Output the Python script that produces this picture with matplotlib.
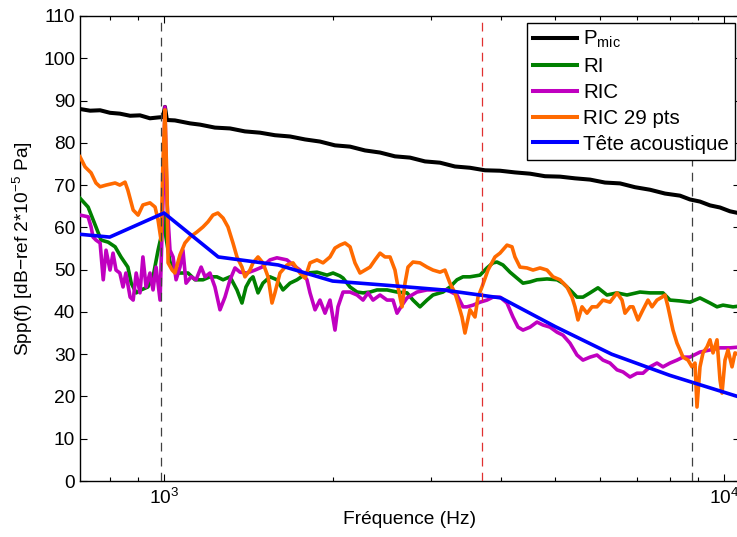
import matplotlib
matplotlib.use("Agg")
import matplotlib.pyplot as plt
from matplotlib.ticker import LogLocator, NullFormatter

plt.rcParams['font.family'] = ['Liberation Sans', 'DejaVu Sans']
plt.rcParams['mathtext.fontset'] = 'custom'
plt.rcParams['mathtext.rm'] = 'Liberation Sans'
plt.rcParams['mathtext.it'] = 'Liberation Sans:italic'
plt.rcParams['mathtext.default'] = 'regular'

# ---------------- data ----------------
pmic_f = [708, 738, 769, 801, 834, 870, 906, 944, 976, 996,
          1004, 1012, 1046, 1113, 1160, 1233, 1312, 1395, 1484, 1578,
          1679, 1786, 1899, 2020, 2149, 2285, 2431, 2585, 2750, 2925,
          3111, 3308, 3519, 3743, 3981, 4234, 4504, 4790, 5095, 5419,
          5764, 6130, 6521, 6935, 7377, 7846, 8345, 8695, 9060, 9441,
          9837, 10250, 10680]
pmic_db = [88.0, 87.6, 87.7, 87.1, 86.9, 86.4, 86.5, 85.8, 86.0, 86.1,
           88.5, 85.4, 85.3, 84.6, 84.3, 83.6, 83.4, 82.7, 82.4, 81.8,
           81.5, 80.8, 80.3, 79.4, 79.1, 78.2, 77.7, 76.8, 76.5, 75.6,
           75.3, 74.4, 74.1, 73.5, 73.4, 73.0, 72.7, 72.1, 72.0, 71.6,
           71.3, 70.6, 70.4, 69.5, 68.9, 68.0, 67.5, 66.6, 66.1, 65.2,
           64.7, 63.8, 63.3]

ri_f = [708, 732, 756, 772, 795, 818, 838, 862, 874, 892,
        910, 936, 956, 976, 988, 1000, 1008, 1025, 1059, 1104,
        1136, 1174, 1208, 1243, 1275, 1312, 1350, 1378, 1401, 1424,
        1442, 1472, 1502, 1546, 1591, 1631, 1679, 1728, 1800, 1876,
        1955, 2004, 2062, 2088, 2149, 2212, 2267, 2333, 2401, 2502,
        2607, 2716, 2784, 2865, 2949, 3022, 3149, 3241, 3336, 3419,
        3519, 3667, 3774, 3868, 3932, 4030, 4148, 4269, 4376, 4504,
        4635, 4830, 5033, 5158, 5309, 5464, 5600, 5764, 5956, 6181,
        6441, 6711, 7079, 7377, 7781, 8009, 8345, 8695, 9060, 9441,
        9717, 9959, 10377, 10680]
ri_db = [66.9, 64.8, 60.1, 57.0, 56.5, 55.4, 53.0, 50.6, 46.8, 44.5,
         45.2, 45.9, 48.3, 54.6, 57.7, 62.9, 57.7, 51.8, 49.2, 49.2,
         47.6, 47.6, 48.3, 48.3, 47.6, 48.3, 45.2, 42.1, 45.9, 47.6,
         48.3, 44.5, 46.8, 48.3, 47.6, 45.2, 46.8, 47.6, 49.2, 49.4,
         48.7, 49.2, 48.5, 48.0, 45.9, 44.7, 44.5, 44.7, 45.2, 45.2,
         44.7, 44.5, 42.8, 41.2, 42.8, 44.0, 44.7, 45.9, 47.6, 48.3,
         48.3, 48.7, 50.4, 51.6, 51.8, 51.1, 49.4, 48.0, 46.8, 47.1,
         47.6, 47.8, 47.6, 46.8, 45.2, 43.5, 43.5, 44.5, 45.7, 44.0,
         44.5, 44.0, 44.7, 44.5, 44.5, 42.8, 42.6, 42.3, 43.3, 42.1,
         41.2, 41.6, 41.2, 41.4]

ric_f = [708, 732, 741, 747, 756, 769, 779, 788, 801, 811,
         821, 834, 845, 855, 870, 881, 892, 906, 917, 929,
         944, 956, 968, 984, 996, 1004, 1012, 1025, 1038, 1051,
         1068, 1081, 1095, 1118, 1141, 1165, 1184, 1208, 1233, 1259,
         1285, 1312, 1339, 1367, 1407, 1454, 1496, 1546, 1591, 1658,
         1700, 1749, 1800, 1823, 1861, 1899, 1939, 1979, 2020, 2045,
         2088, 2149, 2212, 2267, 2314, 2362, 2431, 2502, 2564, 2607,
         2661, 2716, 2830, 2949, 3073, 3202, 3336, 3419, 3476, 3563,
         3667, 3774, 3868, 3981, 4097, 4199, 4287, 4376, 4504, 4635,
         4751, 4890, 5033, 5158, 5309, 5464, 5600, 5764, 5932, 6080,
         6258, 6441, 6602, 6794, 6993, 7167, 7377, 7592, 7781, 8009,
         8243, 8448, 8695, 9060, 9441, 9837, 10250, 10680]
ric_db = [62.9, 62.5, 60.1, 57.7, 57.0, 56.3, 47.6, 54.6, 49.9, 53.9,
          49.9, 49.2, 45.9, 49.2, 43.5, 42.8, 49.2, 44.5, 53.0, 45.9,
          49.2, 45.2, 50.6, 42.8, 66.5, 88.5, 66.5, 54.6, 53.0, 47.6,
          50.6, 54.6, 46.8, 48.3, 47.6, 50.6, 48.3, 49.2, 45.9, 40.5,
          43.5, 47.6, 50.4, 49.4, 49.2, 49.9, 50.6, 52.3, 52.8, 52.3,
          51.1, 49.9, 47.6, 44.5, 40.5, 42.8, 39.7, 42.8, 35.7, 41.2,
          44.7, 44.7, 44.0, 42.8, 44.5, 42.8, 44.0, 42.8, 42.8, 39.7,
          41.6, 43.3, 44.7, 45.2, 45.2, 45.2, 44.0, 41.2, 41.2, 41.6,
          42.3, 42.8, 43.5, 43.5, 42.1, 38.8, 36.4, 35.7, 36.4, 37.6,
          36.9, 36.4, 35.2, 34.5, 32.6, 29.8, 28.6, 29.3, 29.8, 28.6,
          27.9, 26.3, 25.8, 24.6, 25.5, 25.5, 27.0, 27.9, 27.0, 27.9,
          28.6, 29.3, 29.3, 30.5, 31.0, 31.5, 31.5, 31.7]

ric29_f = [708, 723, 741, 756, 769, 788, 818, 834, 852, 862,
           881, 899, 917, 944, 964, 976, 988, 996, 1004, 1012,
           1017, 1034, 1046, 1068, 1090, 1113, 1145, 1174, 1198, 1223,
           1248, 1275, 1301, 1328, 1350, 1378, 1395, 1424, 1442, 1472,
           1502, 1534, 1559, 1578, 1611, 1658, 1700, 1749, 1786, 1823,
           1876, 1923, 1979, 2020, 2062, 2105, 2149, 2193, 2239, 2285,
           2333, 2381, 2431, 2481, 2533, 2585, 2617, 2661, 2694, 2727,
           2784, 2865, 2949, 3022, 3111, 3175, 3241, 3308, 3350, 3405,
           3447, 3519, 3592, 3637, 3697, 3789, 3900, 3981, 4097, 4182,
           4234, 4322, 4448, 4560, 4693, 4830, 4951, 5095, 5244, 5353,
           5419, 5486, 5578, 5693, 5812, 5932, 6080, 6258, 6441, 6575,
           6656, 6794, 6878, 7021, 7167, 7316, 7438, 7592, 7750, 7846,
           7943, 8108, 8243, 8345, 8448, 8624, 8767, 8876, 8949, 9060,
           9172, 9325, 9441, 9558, 9717, 9837, 9919, 10041, 10165, 10335,
           10463, 10680]
ric29_db = [76.7, 74.3, 72.9, 70.5, 69.6, 70.0, 70.5, 70.0, 70.7, 68.8,
            64.1, 62.9, 65.3, 65.8, 64.8, 61.7, 57.0, 75.9, 87.8, 71.2,
            51.6, 49.9, 49.2, 53.5, 56.3, 57.7, 58.9, 60.1, 61.3, 62.9,
            63.4, 62.2, 60.1, 56.3, 53.0, 50.6, 48.3, 49.9, 51.6, 53.0,
            51.6, 48.3, 42.1, 44.5, 49.2, 51.1, 51.6, 49.2, 48.0, 51.6,
            52.3, 51.6, 53.0, 55.1, 55.8, 56.3, 55.4, 51.6, 49.2, 49.9,
            50.6, 52.3, 53.9, 53.0, 53.0, 49.9, 45.9, 41.2, 46.8, 50.6,
            51.8, 51.6, 50.6, 49.9, 49.4, 49.9, 46.8, 44.5, 42.1, 38.8,
            35.0, 40.5, 38.8, 43.5, 45.9, 49.9, 53.0, 53.9, 55.8, 55.4,
            53.0, 50.6, 50.4, 49.9, 50.4, 49.9, 48.3, 47.6, 45.9, 43.5,
            41.2, 38.1, 41.2, 39.7, 41.2, 41.2, 42.8, 42.3, 44.5, 42.8,
            39.7, 41.2, 41.2, 38.1, 40.5, 42.8, 41.2, 42.8, 43.5, 44.0,
            41.2, 35.7, 32.6, 31.0, 29.3, 28.6, 27.0, 27.9, 17.5, 27.0,
            30.3, 31.7, 33.4, 30.3, 33.4, 23.9, 20.8, 28.6, 31.0, 27.0,
            30.3, 29.8]

tete_f = [630, 800, 1000, 1250, 1600, 2000, 2500, 3150, 4000, 5000,
          6300, 8000, 10000, 12500]
tete_db = [59.0, 57.7, 63.4, 53.0, 51.1, 47.3, 46.3, 45.2, 43.3, 36.5,
           30.0, 25.0, 21.0, 17.0]

vline_black_f = [988, 8767]
vline_red_f = [3697]

series_labels = ['P$_{\\mathrm{mic}}$', 'RI', 'RIC', 'RIC 29 pts', 'Tête acoustique']
yticks = list(range(0, 111, 10))
xlim = (708, 10680)

# ---------------- plot ----------------
W, H = 737, 537
fig = plt.figure(figsize=(W / 100, H / 100), dpi=100)
ax = fig.add_axes([80 / W, (H - 481) / H, (740 - 80) / W, (481 - 16) / H])

lw = 2.6
ax.plot(pmic_f, pmic_db, color='black', lw=2.9, label=series_labels[0], zorder=3)
ax.plot(ri_f, ri_db, color='#008000', lw=lw, label=series_labels[1], zorder=3)
ax.plot(ric_f, ric_db, color='#c000c0', lw=lw, label=series_labels[2], zorder=3)
ax.plot(ric29_f, ric29_db, color='#ff6a00', lw=lw, label=series_labels[3], zorder=3)
ax.plot(tete_f, tete_db, color='#0000ff', lw=lw, label=series_labels[4], zorder=3)

for f in vline_black_f:
    ax.axvline(f, color='#404040', lw=0.9, ls=(0, (7, 5)), zorder=4)
for f in vline_red_f:
    ax.axvline(f, color='#e03030', lw=0.9, ls=(0, (7, 5)), zorder=4)

ax.set_xscale('log')
ax.set_xlim(*xlim)
ax.set_ylim(0, 110)
ax.set_yticks(yticks)
ax.xaxis.set_minor_locator(LogLocator(base=10, subs=range(2, 10)))
ax.xaxis.set_minor_formatter(NullFormatter())

ax.tick_params(axis='both', which='both', direction='in', top=True, right=True,
               labelsize=13.8, colors='black')
ax.tick_params(axis='both', which='major', length=5, width=0.8)
ax.tick_params(axis='both', which='minor', length=3, width=0.8)
ax.tick_params(axis='x', which='major', pad=5)
for s in ax.spines.values():
    s.set_linewidth(1.0)

ax.set_xlabel('Fréquence (Hz)', fontsize=13.8, labelpad=2)
ax.set_ylabel('Spp(f) [dB−ref 2*10$^{-5}$ Pa]', fontsize=13.8, labelpad=6)

leg = ax.legend(loc='upper right', bbox_to_anchor=(735 / W, 1 - 23 / H),
                bbox_transform=fig.transFigure, borderaxespad=0,
                fancybox=False, framealpha=1, edgecolor='black',
                fontsize=14.8, handlelength=2.15, handletextpad=0.3,
                labelspacing=0.33, borderpad=0.3)
leg.get_frame().set_linewidth(1.0)
for line in leg.get_lines():
    line.set_linewidth(2.9)

fig.savefig('out.png', dpi=100)
